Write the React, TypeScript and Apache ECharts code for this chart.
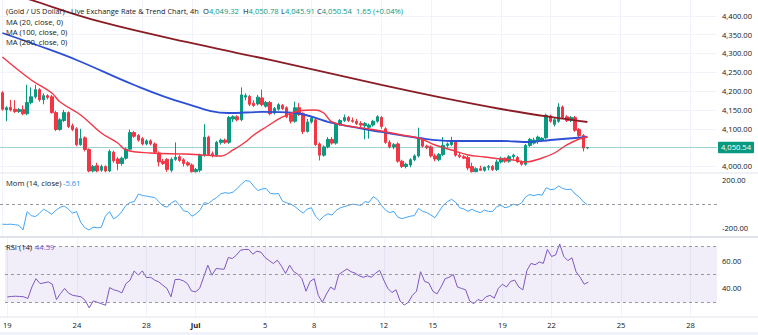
import { useEffect, useRef } from 'react';
import * as echarts from 'echarts';

// Date ticks on the candle index axis
const tickIndex = [0, 17, 34, 46, 63, 75, 92, 104, 121, 133, 150, 167];
const tickLabels = ['19', '24', '28', 'Jul', '5', '8', '12', '15', '19', '22', '25', '28'];

const priceGrid = [4000, 4050, 4100, 4150, 4200, 4250, 4300, 4350, 4400];
const priceLabels = [4000, 4100, 4150, 4200, 4250, 4300, 4350, 4400];
const momLabels = [200, -200];
const rsiLabels = [60, 40];

// 4h candles: [open, high, low, close]
const candles: number[][] = [
  [4196, 4200, 4148, 4152], [4150, 4160, 4120, 4156], [4157, 4177, 4146, 4150], [4152, 4176, 4142, 4146],
  [4146, 4155, 4142, 4151], [4151, 4162, 4136, 4140], [4140, 4217, 4136, 4170], [4170, 4210, 4165, 4185],
  [4185, 4217, 4180, 4204], [4204, 4208, 4172, 4177], [4177, 4194, 4165, 4188], [4188, 4192, 4178, 4183],
  [4185, 4190, 4140, 4143], [4143, 4148, 4094, 4098], [4098, 4128, 4095, 4124], [4122, 4150, 4118, 4143],
  [4143, 4146, 4102, 4106], [4108, 4114, 4094, 4098], [4100, 4104, 4054, 4058], [4058, 4100, 4055, 4074],
  [4076, 4080, 4040, 4045], [4045, 4048, 3984, 3988], [3988, 4004, 3984, 4000], [4002, 4010, 3984, 3988],
  [3990, 4005, 3986, 4000], [4000, 4003, 3984, 3988], [3988, 4045, 3985, 4040], [4038, 4042, 4010, 4015],
  [4020, 4025, 3990, 4008], [4008, 4026, 4002, 4022], [4022, 4050, 4018, 4046], [4046, 4098, 4042, 4090],
  [4090, 4094, 4076, 4080], [4082, 4086, 4066, 4070], [4074, 4078, 4056, 4060], [4060, 4072, 4056, 4068],
  [4068, 4072, 4056, 4060], [4060, 4064, 4034, 4038], [4036, 4040, 4000, 4012], [4014, 4020, 4004, 4008],
  [4019, 4022, 3986, 3992], [3990, 4024, 3984, 4019], [4019, 4064, 4015, 4024], [4026, 4030, 4012, 4016],
  [4018, 4022, 4000, 4008], [4010, 4014, 4000, 4004], [4004, 4008, 3982, 3986], [3986, 3996, 3982, 3992],
  [3990, 4034, 3984, 4030], [4030, 4112, 4026, 4078], [4078, 4082, 4028, 4032], [4034, 4040, 4024, 4030],
  [4030, 4068, 4026, 4064], [4064, 4074, 4058, 4070], [4070, 4074, 4060, 4064], [4064, 4134, 4060, 4130],
  [4126, 4136, 4118, 4132], [4132, 4136, 4120, 4124], [4124, 4210, 4120, 4190], [4184, 4194, 4176, 4188],
  [4186, 4190, 4160, 4165], [4168, 4176, 4158, 4162], [4166, 4190, 4162, 4184], [4182, 4204, 4160, 4164],
  [4160, 4174, 4156, 4170], [4170, 4174, 4136, 4140], [4142, 4158, 4138, 4154], [4152, 4168, 4148, 4164],
  [4162, 4166, 4150, 4154], [4156, 4160, 4128, 4132], [4138, 4142, 4114, 4120], [4120, 4172, 4116, 4156],
  [4156, 4168, 4134, 4138], [4140, 4144, 4086, 4093], [4093, 4126, 4090, 4118], [4118, 4132, 4114, 4128],
  [4124, 4128, 4054, 4058], [4060, 4064, 4016, 4030], [4030, 4056, 4026, 4052], [4052, 4078, 4048, 4072],
  [4072, 4078, 4058, 4062], [4062, 4116, 4058, 4112], [4112, 4126, 4108, 4122], [4122, 4138, 4118, 4130],
  [4130, 4134, 4118, 4122], [4122, 4130, 4116, 4120], [4120, 4126, 4110, 4114], [4114, 4120, 4104, 4110],
  [4108, 4118, 4072, 4114], [4104, 4114, 4074, 4110], [4110, 4124, 4106, 4120], [4120, 4136, 4116, 4132],
  [4130, 4134, 4100, 4106], [4100, 4104, 4060, 4064], [4064, 4070, 4048, 4052], [4052, 4062, 4046, 4058],
  [4060, 4064, 4010, 4014], [4014, 4018, 3996, 4000], [4000, 4010, 3995, 4006], [4004, 4022, 3998, 4018],
  [4018, 4032, 4014, 4028], [4028, 4103, 4024, 4075], [4072, 4076, 4050, 4054], [4054, 4058, 4046, 4050],
  [4052, 4056, 4024, 4028], [4028, 4034, 4014, 4020], [4018, 4036, 4014, 4032], [4032, 4078, 4028, 4056],
  [4056, 4064, 4050, 4060], [4058, 4079, 4054, 4068], [4066, 4070, 4026, 4030], [4030, 4036, 4022, 4026],
  [4026, 4030, 4020, 4022], [4024, 4028, 3990, 3996], [4000, 4010, 3982, 3986], [3986, 3998, 3984, 3994],
  [3994, 4002, 3988, 3990], [3990, 4000, 3986, 3998], [3998, 4004, 3990, 4000], [4000, 4004, 3988, 3992],
  [3992, 4018, 3988, 4012], [4012, 4026, 4008, 4022], [4022, 4024, 4010, 4014], [4014, 4030, 4010, 4026],
  [4026, 4034, 4020, 4030], [4024, 4028, 4010, 4012], [4012, 4016, 4002, 4006], [4006, 4060, 4002, 4056],
  [4056, 4076, 4052, 4072], [4062, 4076, 4058, 4070], [4068, 4082, 4060, 4078], [4070, 4078, 4066, 4075],
  [4076, 4140, 4072, 4136], [4134, 4138, 4116, 4120], [4112, 4128, 4106, 4124], [4120, 4168, 4116, 4158],
  [4158, 4162, 4126, 4130], [4132, 4136, 4118, 4122], [4122, 4134, 4118, 4130], [4130, 4134, 4092, 4096],
  [4098, 4102, 4078, 4082], [4082, 4086, 4040, 4048.89], [4049.32, 4050.78, 4045.91, 4050.54],
];

// Moving averages read at [candle index, value]
const ma20: number[][] = [
  [0, 4290.6], [7, 4229.6], [12, 4195.1], [14, 4171.2], [19, 4136.7], [24, 4088.9], [28, 4062.4],
  [30, 4043.8], [36, 4035.8], [44, 4033.2], [49, 4030.5], [53, 4027.9], [56, 4043.8], [59, 4065],
  [61, 4083.6], [64, 4104.8], [68, 4131.4], [72, 4147.3], [76, 4150], [78, 4142], [80, 4118.1],
  [84, 4107.5], [89, 4099.5], [92, 4094.2], [97, 4083.6], [101, 4075.6], [105, 4057.1], [109, 4043.8],
  [113, 4030.5], [117, 4025.2], [121, 4019.9], [124, 4017.3], [127, 4011.9], [131, 4022.6],
  [134, 4035.8], [137, 4057.1], [140, 4073], [142, 4078.3],
];
const ma100: number[][] = [
  [0, 4354.3], [9, 4319.8], [18, 4282.7], [32, 4216.3], [44, 4168.6], [55, 4142], [63, 4144.7],
  [71, 4142], [80, 4115.5], [92, 4091.6], [101, 4075.6], [109, 4067.7], [121, 4067.7], [128, 4065],
  [133, 4070.3], [142, 4078.3],
];
const ma200: number[][] = [
  [0, 4468.5], [7, 4442], [24, 4383.6], [48, 4322.5], [65, 4282.7], [92, 4216.3], [106, 4184],
  [121, 4152.6], [133, 4131.4], [142, 4118.1],
];

// Momentum (14) per candle
const mom: number[] = [
  -166, -168, -166, -170, -175, -214, -62, -95, -103, -75, -42, -62, -84, -50, -26, -15, -40, -75,
  -62, -150, -195, -214, -191, -196, -191, -100, -62, -123, -100, -60, -10, 14, 21, 84, 72, 66, 60,
  55, 20, -15, -25, 10, 29, -10, -55, -62, -100, -80, -48, 12, 5, 33, 55, 85, 95, 90, 100, 130, 165,
  195, 190, 150, 112, 125, 130, 90, 85, 88, 25, 10, 0, -20, -48, -75, -40, -30, -100, -134, -100,
  -80, -90, -52, -30, -20, -10, 0, -5, -10, 20, 15, 62, 40, -10, -50, -70, -60, -108, -120, -110,
  -100, -95, -35, -60, -70, -90, -112, -60, -10, 20, 40, 16, -30, -40, -60, -42, -60, -70, -50, -60,
  -60, -20, -10, -30, -20, 0, -10, 10, 60, 80, 70, 80, 75, 136, 120, 125, 150, 130, 120, 125, 84, 60,
  20, -5.61,
];

// RSI (14) per candle
const rsi: number[] = [
  33.9, 34.2, 34.4, 34.2, 34, 32.7, 41, 47, 43.5, 44, 44.7, 43, 32, 36.3, 40, 36.5, 35, 34.5, 34,
  31.5, 26, 31, 30, 29, 27.9, 40.6, 39, 38.2, 36.8, 43.5, 45.9, 52.6, 49.5, 52.6, 47.8, 48, 46, 44.7,
  42.3, 40, 34, 46.4, 46.5, 45.5, 43.5, 38.2, 37.5, 40, 48.3, 56.7, 49.5, 54.3, 54, 53.8, 62.2, 61.5,
  64, 67.5, 68, 68, 64.6, 66.8, 66, 62.2, 60, 57.9, 60.3, 56, 50.7, 56.7, 52, 50.2, 47, 38, 45, 47,
  35, 30, 36, 41, 39, 50, 52, 54, 52, 51, 49, 48, 49, 48, 51, 53, 46, 40, 37, 39, 31, 28, 30, 35, 38,
  52, 45, 44, 38, 36, 41, 47, 48, 50, 41, 40, 39, 31, 29, 32, 31, 34, 35, 33, 40, 43, 41, 45, 46, 41,
  39, 53, 58, 57, 59, 58, 68, 63, 64, 72, 63, 60, 62, 52, 48, 43, 44.59,
];

const UP = '#089981';
const DOWN = '#f23645';
const TEXT = '#131722';
const FONT = 'Open Sans';
const FS = 7.6;

const fmt = (v: number) =>
  v.toLocaleString('en-US', { minimumFractionDigits: 2, maximumFractionDigits: 2 });

export default function App() {
  const ref = useRef<HTMLDivElement>(null);

  useEffect(() => {
    if (!ref.current) return;
    const chart = echarts.init(ref.current, undefined, { renderer: 'svg' });

    const last = candles[candles.length - 1];
    const prevClose = candles[candles.length - 2][3];
    const change = last[3] - prevClose;
    const pct = (change / prevClose) * 100;
    const lastMom = mom[mom.length - 1];
    const lastRsi = rsi[rsi.length - 1];

    const xMin = -0.583;
    const xMax = 173.45;
    const grids = [
      { left: 0, top: 0, width: 717, height: 173 },
      { left: 0, top: 174, width: 717, height: 62 },
      { left: 0, top: 238.5, width: 717, height: 78 },
    ];

    const xAxis = grids.map((_, gi) => ({
      type: 'value',
      gridIndex: gi,
      min: xMin,
      max: xMax,
      axisLine: { show: false },
      axisTick: { show: false, customValues: tickIndex },
      splitLine: { show: true, lineStyle: { color: '#f0f3fa', width: 1 } },
      axisLabel: gi === 2
        ? {
            show: true,
            customValues: tickIndex,
            margin: 4,
            fontSize: FS,
            fontFamily: FONT,
            color: TEXT,
            formatter: (v: number) => {
              const k = tickIndex.indexOf(Math.round(v));
              const s = k >= 0 ? tickLabels[k] : '';
              return s === 'Jul' ? '{b|Jul}' : s;
            },
            rich: { b: { fontWeight: 'bold', fontSize: FS, fontFamily: FONT, color: TEXT } },
          }
        : { show: false },
    }));

    const yLabel = (vals: number[]) => ({
      customValues: vals,
      margin: 5,
      fontSize: FS,
      fontFamily: FONT,
      color: TEXT,
      formatter: (v: number) => fmt(v),
    });

    const yAxis = [
      {
        type: 'value', gridIndex: 0, position: 'right', min: 3982.7, max: 4441.9,
        axisLine: { show: false },
        axisTick: { show: false, customValues: priceGrid },
        axisLabel: yLabel(priceLabels),
        splitLine: { show: true, lineStyle: { color: '#f0f3fa' } },
      },
      {
        type: 'value', gridIndex: 1, position: 'right', min: -263.8, max: 249.7,
        axisLine: { show: false },
        axisTick: { show: false, customValues: momLabels },
        axisLabel: yLabel(momLabels),
        splitLine: { show: false },
      },
      {
        type: 'value', gridIndex: 2, position: 'right', min: 19.8, max: 75.9,
        axisLine: { show: false },
        axisTick: { show: false, customValues: rsiLabels },
        axisLabel: yLabel(rsiLabels),
        splitLine: { show: false },
      },
    ];

    const tag = (bg: string) => ({
      show: true,
      position: 'end',
      distance: 1,
      color: '#ffffff',
      backgroundColor: bg,
      padding: [2, 3, 1.5, 3],
      borderRadius: 1,
      fontSize: FS,
      fontFamily: FONT,
    });

    const dashed = { color: '#9598a1', type: [3, 3], width: 1 };

    const maLine = (data: number[][], color: string, width: number) => ({
      type: 'line',
      xAxisIndex: 0,
      yAxisIndex: 0,
      data,
      smooth: 0.4,
      showSymbol: false,
      silent: true,
      clip: false,
      lineStyle: { color, width },
      z: 3,
    });

    const txt = (x: number, y: number, text: string, fill: string, size = FS) => ({
      type: 'text',
      x,
      y,
      silent: true,
      z: 100,
      style: { text, fill, fontSize: size, fontFamily: FONT, verticalAlign: 'middle' },
    });

    const kv = (x: number, k: string, v: string) => ({
      type: 'text',
      x,
      y: 10.7,
      silent: true,
      z: 100,
      style: {
        text: `{k|${k}}{v|${v}}`,
        fontSize: FS,
        fontFamily: FONT,
        verticalAlign: 'middle',
        rich: {
          k: { fill: TEXT, fontSize: FS, fontFamily: FONT },
          v: { fill: UP, fontSize: FS, fontFamily: FONT },
        },
      },
    });

    const option = {
      animation: false,
      backgroundColor: '#ffffff',
      textStyle: { fontFamily: FONT },
      grid: grids,
      xAxis,
      yAxis,
      series: [
        {
          type: 'candlestick',
          xAxisIndex: 0,
          yAxisIndex: 0,
          data: candles.map((c, i) => [i, c[0], c[3], c[2], c[1]]),
          encode: { x: 0, y: [1, 2, 3, 4] },
          barWidth: 3,
          clip: false,
          silent: true,
          itemStyle: {
            color: UP,
            color0: DOWN,
            borderColor: UP,
            borderColor0: DOWN,
            borderWidth: 1,
          },
          markLine: {
            silent: true,
            symbol: 'none',
            data: [
              {
                yAxis: last[3],
                lineStyle: { color: 'rgba(8,153,129,0.35)', type: 'solid', width: 1 },
                label: { ...tag(UP), formatter: () => fmt(last[3]) },
              },
            ],
          },
          z: 2,
        },
        maLine(ma200, '#8a1c24', 1.8),
        maLine(ma100, '#2d4fd4', 1.8),
        maLine(ma20, '#f23645', 1.4),
        {
          type: 'line',
          xAxisIndex: 1,
          yAxisIndex: 1,
          data: mom.map((v, i) => [i, v]),
          showSymbol: false,
          silent: true,
          lineStyle: { color: '#42a5f5', width: 1 },
          markLine: {
            silent: true,
            symbol: 'none',
            data: [
              { yAxis: 0, lineStyle: dashed, label: { show: false } },
              {
                yAxis: lastMom,
                lineStyle: { opacity: 0 },
                label: { ...tag('#2196f3'), formatter: () => fmt(lastMom) },
              },
            ],
          },
        },
        {
          type: 'line',
          xAxisIndex: 2,
          yAxisIndex: 2,
          data: rsi.map((v, i) => [i, v]),
          showSymbol: false,
          silent: true,
          clip: false,
          lineStyle: { color: '#7e57c2', width: 1 },
          markArea: {
            silent: true,
            itemStyle: { color: 'rgba(126,87,194,0.1)' },
            data: [[{ yAxis: 30 }, { yAxis: 70 }]],
          },
          markLine: {
            silent: true,
            symbol: 'none',
            data: [
              { yAxis: 70, lineStyle: dashed, label: { show: false } },
              { yAxis: 50, lineStyle: dashed, label: { show: false } },
              { yAxis: 30, lineStyle: dashed, label: { show: false } },
              {
                yAxis: lastRsi,
                lineStyle: { opacity: 0 },
                label: { ...tag('#7e57c2'), formatter: () => fmt(lastRsi) },
              },
            ],
          },
        },
      ],
      graphic: [
        { type: 'rect', silent: true, z: 50, shape: { x: 0, y: 172.5, width: 758, height: 1 }, style: { fill: '#e0e3eb' } },
        { type: 'rect', silent: true, z: 50, shape: { x: 0, y: 236, width: 758, height: 2 }, style: { fill: '#e0e3eb' } },
        { type: 'rect', silent: true, z: 50, shape: { x: 0, y: 316.5, width: 758, height: 1 }, style: { fill: '#e0e3eb' } },
        { type: 'rect', silent: true, z: 50, shape: { x: 0, y: 332, width: 758, height: 3 }, style: { fill: '#f0f3fa' } },
        txt(6, 10.7, '(Gold / US Dollar) - Live Exchange Rate & Trend Chart, 4h', TEXT, 7.35),
        kv(203, 'O', fmt(last[0])),
        kv(243, 'H', fmt(last[1])),
        kv(281, 'L', fmt(last[2])),
        kv(317, 'C', fmt(last[3])),
        txt(356, 10.7, `${change.toFixed(2)} (${change >= 0 ? '+' : ''}${pct.toFixed(2)}%)`, UP),
        txt(6, 21.7, 'MA (20, close, 0)', TEXT),
        txt(6, 32.3, 'MA (100, close, 0)', TEXT),
        txt(6, 42.3, 'MA (200, close, 0)', TEXT),
        txt(6, 183.3, 'Mom (14, close)', TEXT),
        txt(63, 183.3, fmt(lastMom), '#2196f3'),
        txt(6, 247.3, 'RSI (14)', TEXT),
        txt(35, 247.3, fmt(lastRsi), '#7e57c2'),
      ],
    };

    chart.setOption(option as any);
    return () => chart.dispose();
  }, []);

  return (
    <div
      ref={ref}
      style={{ position: 'fixed', left: 0, top: 0, width: 758, height: 335, background: '#ffffff' }}
    />
  );
}
